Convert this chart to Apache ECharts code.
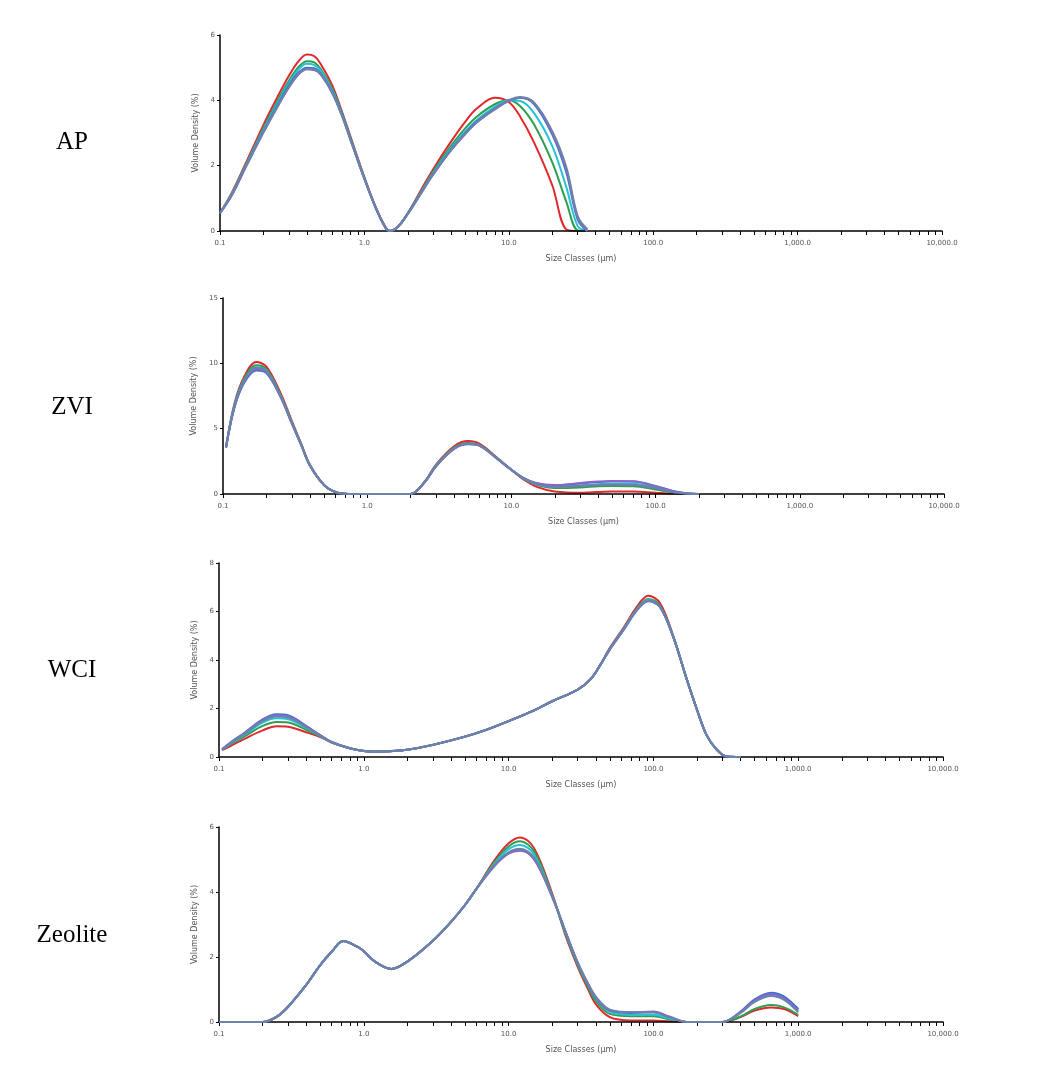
<!DOCTYPE html>
<html>
<head>
<meta charset="utf-8">
<title>Particle size distribution</title>
<script src="https://cdn.jsdelivr.net/npm/echarts@6/dist/echarts.min.js"></script>
<style>
  html, body { margin: 0; padding: 0; background: #fff; }
  #chart { width: 1047px; height: 1088px; }
</style>
</head>
<body>
<div id="chart"></div>
<script>
// size classes (um) and volume density (%) per sample
const apSizes = [0.1, 0.12, 0.15, 0.2, 0.25, 0.3, 0.35, 0.4, 0.45, 0.5, 0.6, 0.7, 0.8, 1, 1.2, 1.4, 1.5, 1.7, 2, 2.5, 3, 4, 5, 6, 8, 10, 12, 15, 20, 25, 30, 35]
const apRed = [0.55, 1.15, 2.05, 3.25, 4.1, 4.75, 5.2, 5.4, 5.35, 5.1, 4.45, 3.65, 2.9, 1.65, 0.72, 0.12, 0, 0.12, 0.55, 1.3, 1.9, 2.75, 3.35, 3.75, 4.08, 3.95, 3.5, 2.7, 1.4, 0.05, 0, 0]
const apGreen = [0.55, 1.12, 2.0, 3.15, 3.98, 4.6, 5.02, 5.2, 5.16, 4.95, 4.35, 3.6, 2.85, 1.62, 0.7, 0.1, 0, 0.12, 0.55, 1.25, 1.83, 2.62, 3.15, 3.5, 3.88, 4.0, 3.82, 3.25, 2.1, 0.9, 0.02, 0]
const apCyan = [0.55, 1.1, 1.98, 3.1, 3.92, 4.52, 4.95, 5.12, 5.08, 4.9, 4.3, 3.58, 2.84, 1.62, 0.7, 0.1, 0, 0.12, 0.54, 1.22, 1.78, 2.55, 3.05, 3.4, 3.8, 4.0, 3.98, 3.6, 2.6, 1.35, 0.15, 0]
const apBlue = [0.55, 1.08, 1.95, 3.05, 3.85, 4.45, 4.85, 5.0, 4.98, 4.82, 4.25, 3.55, 2.82, 1.6, 0.7, 0.1, 0, 0.12, 0.53, 1.2, 1.75, 2.5, 3.0, 3.35, 3.75, 4.0, 4.08, 3.88, 2.95, 1.8, 0.35, 0]
const apPurple = [0.55, 1.08, 1.94, 3.03, 3.82, 4.4, 4.8, 4.95, 4.93, 4.78, 4.22, 3.53, 2.8, 1.6, 0.7, 0.1, 0, 0.12, 0.53, 1.2, 1.74, 2.48, 2.97, 3.32, 3.72, 3.98, 4.08, 3.92, 3.0, 1.9, 0.4, 0]
const apSlate = [0.55, 1.08, 1.94, 3.02, 3.8, 4.4, 4.8, 4.96, 4.94, 4.8, 4.22, 3.53, 2.8, 1.6, 0.7, 0.1, 0, 0.12, 0.53, 1.2, 1.74, 2.5, 2.98, 3.33, 3.74, 4.0, 4.1, 3.92, 3.05, 1.95, 0.45, 0.05]

const zviSizes = [0.105, 0.12, 0.14, 0.17, 0.2, 0.25, 0.3, 0.35, 0.4, 0.5, 0.6, 0.7, 0.8, 1, 1.5, 2, 2.5, 3, 4, 5, 6, 8, 10, 12, 15, 20, 30, 40, 50, 70, 100, 130, 170, 200]
const zviRed = [3.6, 6.9, 8.95, 10.1, 9.75, 7.75, 5.6, 3.8, 2.25, 0.72, 0.15, 0.02, 0, 0, 0, 0, 0.95, 2.25, 3.65, 4.05, 3.85, 2.75, 1.85, 1.15, 0.55, 0.2, 0.1, 0.15, 0.2, 0.2, 0.1, 0.03, 0, 0]
const zviGreen = [3.6, 6.8, 8.8, 9.85, 9.55, 7.6, 5.5, 3.75, 2.2, 0.7, 0.15, 0.02, 0, 0, 0, 0, 0.92, 2.2, 3.55, 3.9, 3.75, 2.7, 1.85, 1.2, 0.7, 0.45, 0.5, 0.6, 0.62, 0.6, 0.35, 0.12, 0.02, 0]
const zviCyan = [3.6, 6.75, 8.7, 9.7, 9.45, 7.55, 5.45, 3.72, 2.2, 0.7, 0.15, 0.02, 0, 0, 0, 0, 0.9, 2.15, 3.5, 3.85, 3.72, 2.7, 1.85, 1.22, 0.75, 0.55, 0.65, 0.75, 0.8, 0.78, 0.5, 0.18, 0.03, 0]
const zviBlue = [3.55, 6.6, 8.5, 9.45, 9.25, 7.45, 5.4, 3.7, 2.2, 0.7, 0.15, 0.02, 0, 0, 0, 0, 0.9, 2.12, 3.45, 3.8, 3.7, 2.68, 1.85, 1.25, 0.82, 0.65, 0.8, 0.92, 0.97, 0.95, 0.62, 0.25, 0.04, 0]
const zviPurple = [3.55, 6.65, 8.6, 9.55, 9.35, 7.5, 5.42, 3.7, 2.2, 0.7, 0.15, 0.02, 0, 0, 0, 0, 0.9, 2.12, 3.45, 3.82, 3.7, 2.68, 1.85, 1.25, 0.82, 0.68, 0.85, 0.95, 1.0, 0.97, 0.6, 0.22, 0.03, 0]
const zviSlate = [3.6, 6.7, 8.65, 9.65, 9.42, 7.52, 5.45, 3.72, 2.2, 0.7, 0.15, 0.02, 0, 0, 0, 0, 0.9, 2.15, 3.5, 3.85, 3.72, 2.7, 1.85, 1.22, 0.75, 0.55, 0.62, 0.7, 0.72, 0.7, 0.45, 0.15, 0.02, 0]

const wciSizes = [0.105, 0.12, 0.15, 0.2, 0.25, 0.3, 0.4, 0.5, 0.6, 0.8, 1, 1.2, 1.5, 2, 3, 5, 7, 10, 15, 20, 30, 37, 43, 50, 62, 77, 92, 111, 137, 170, 200, 233, 274, 320, 400]
const wciRed = [0.28, 0.45, 0.75, 1.1, 1.27, 1.25, 1.02, 0.82, 0.6, 0.36, 0.25, 0.22, 0.24, 0.3, 0.5, 0.84, 1.12, 1.48, 1.92, 2.3, 2.78, 3.22, 3.8, 4.5, 5.32, 6.2, 6.65, 6.35, 5.0, 3.2, 1.95, 0.9, 0.3, 0.02, 0]
const wciGreen = [0.3, 0.52, 0.85, 1.28, 1.44, 1.42, 1.12, 0.85, 0.6, 0.36, 0.25, 0.22, 0.24, 0.3, 0.5, 0.84, 1.12, 1.48, 1.92, 2.3, 2.78, 3.22, 3.8, 4.47, 5.28, 6.12, 6.52, 6.25, 4.97, 3.2, 1.95, 0.9, 0.3, 0.02, 0]
const wciCyan = [0.3, 0.55, 0.92, 1.42, 1.6, 1.56, 1.2, 0.87, 0.6, 0.36, 0.25, 0.22, 0.24, 0.3, 0.5, 0.84, 1.12, 1.48, 1.92, 2.3, 2.78, 3.22, 3.8, 4.45, 5.25, 6.1, 6.48, 6.2, 4.95, 3.2, 1.95, 0.9, 0.3, 0.02, 0]
const wciBlue = [0.32, 0.6, 1.0, 1.55, 1.76, 1.72, 1.28, 0.9, 0.62, 0.36, 0.25, 0.22, 0.24, 0.3, 0.5, 0.84, 1.12, 1.48, 1.92, 2.3, 2.78, 3.22, 3.8, 4.43, 5.22, 6.05, 6.42, 6.18, 4.95, 3.2, 1.95, 0.9, 0.3, 0.02, 0]
const wciPurple = [0.32, 0.58, 0.98, 1.52, 1.72, 1.68, 1.26, 0.9, 0.62, 0.36, 0.25, 0.22, 0.24, 0.3, 0.5, 0.84, 1.12, 1.48, 1.92, 2.3, 2.78, 3.22, 3.8, 4.44, 5.24, 6.08, 6.45, 6.2, 4.95, 3.2, 1.95, 0.9, 0.3, 0.02, 0]
const wciSlate = [0.31, 0.57, 0.96, 1.48, 1.67, 1.63, 1.24, 0.88, 0.61, 0.36, 0.25, 0.22, 0.24, 0.3, 0.5, 0.84, 1.12, 1.48, 1.92, 2.3, 2.78, 3.22, 3.8, 4.45, 5.25, 6.08, 6.45, 6.2, 4.96, 3.2, 1.95, 0.9, 0.3, 0.02, 0]

const zeoSizes = [0.1, 0.2, 0.25, 0.3, 0.4, 0.5, 0.6, 0.72, 0.9, 1, 1.2, 1.55, 2, 3, 4, 5, 6, 8, 10, 12, 15, 20, 25, 30, 35, 40, 50, 70, 100, 130, 170, 300, 400, 500, 650, 800, 1000]
const zeoRed = [0, 0, 0.16, 0.47, 1.14, 1.75, 2.16, 2.49, 2.32, 2.18, 1.85, 1.63, 1.86, 2.5, 3.08, 3.6, 4.1, 4.98, 5.5, 5.68, 5.35, 3.95, 2.6, 1.7, 1.05, 0.55, 0.15, 0.05, 0.05, 0.02, 0, 0, 0.15, 0.35, 0.45, 0.4, 0.18]
const zeoGreen = [0, 0, 0.16, 0.47, 1.14, 1.75, 2.16, 2.49, 2.32, 2.18, 1.85, 1.63, 1.86, 2.5, 3.08, 3.6, 4.1, 4.92, 5.4, 5.56, 5.25, 3.9, 2.65, 1.75, 1.12, 0.65, 0.25, 0.18, 0.18, 0.08, 0, 0, 0.17, 0.4, 0.52, 0.45, 0.22]
const zeoCyan = [0, 0, 0.16, 0.47, 1.14, 1.75, 2.16, 2.49, 2.32, 2.18, 1.85, 1.63, 1.86, 2.5, 3.08, 3.6, 4.1, 4.88, 5.32, 5.45, 5.15, 3.88, 2.7, 1.8, 1.18, 0.72, 0.32, 0.22, 0.22, 0.1, 0, 0, 0.3, 0.65, 0.85, 0.75, 0.38]
const zeoBlue = [0, 0, 0.16, 0.47, 1.14, 1.75, 2.16, 2.49, 2.32, 2.18, 1.85, 1.63, 1.86, 2.5, 3.08, 3.6, 4.1, 4.82, 5.2, 5.3, 5.02, 3.85, 2.72, 1.82, 1.2, 0.75, 0.35, 0.28, 0.3, 0.15, 0, 0, 0.32, 0.7, 0.9, 0.78, 0.4]
const zeoPurple = [0, 0, 0.16, 0.47, 1.14, 1.75, 2.16, 2.49, 2.32, 2.18, 1.85, 1.63, 1.86, 2.5, 3.08, 3.6, 4.1, 4.8, 5.18, 5.27, 5.0, 3.85, 2.72, 1.82, 1.2, 0.75, 0.36, 0.3, 0.32, 0.16, 0, 0, 0.3, 0.66, 0.86, 0.72, 0.35]
const zeoSlate = [0, 0, 0.16, 0.47, 1.14, 1.75, 2.16, 2.49, 2.32, 2.18, 1.85, 1.63, 1.86, 2.5, 3.08, 3.6, 4.1, 4.83, 5.22, 5.33, 5.05, 3.87, 2.72, 1.83, 1.22, 0.78, 0.38, 0.3, 0.3, 0.14, 0, 0, 0.28, 0.62, 0.8, 0.68, 0.3]

// x ticks: decades plus 2..9 minors
const sizeTicks = [0.1, 0.2, 0.3, 0.4, 0.5, 0.6, 0.7, 0.8, 0.9, 1, 2, 3, 4, 5, 6, 7, 8, 9, 10, 20, 30, 40, 50, 60, 70, 80, 90,
  100, 200, 300, 400, 500, 600, 700, 800, 900, 1000, 2000, 3000, 4000, 5000, 6000, 7000, 8000, 9000, 10000]

const runColors = ['#e0282c', '#2e9e50', '#22c3d5', '#3c70d4', '#8a66cc', '#6c82a8']

const panels = [
  { label: 'AP', sizes: apSizes, runs: [apRed, apGreen, apCyan, apBlue, apPurple, apSlate], yMax: 6, yStep: 2, left: 220, top: 35, width: 722, height: 196, labelY: 142 },
  { label: 'ZVI', sizes: zviSizes, runs: [zviRed, zviGreen, zviCyan, zviBlue, zviPurple, zviSlate], yMax: 15, yStep: 5, left: 223, top: 298, width: 721, height: 196, labelY: 407 },
  { label: 'WCI', sizes: wciSizes, runs: [wciRed, wciGreen, wciCyan, wciBlue, wciPurple, wciSlate], yMax: 8, yStep: 2, left: 219, top: 563, width: 724, height: 194, labelY: 670 },
  { label: 'Zeolite', sizes: zeoSizes, runs: [zeoRed, zeoGreen, zeoCyan, zeoBlue, zeoPurple, zeoSlate], yMax: 6, yStep: 2, left: 219, top: 827, width: 724, height: 195, labelY: 935 }
]

function sizeLabel(v) {
  const n = Number(v.toPrecision(6))
  if (n < 1) return n.toFixed(1)
  return String(Math.round(n)).replace(/\B(?=(\d{3})+(?!\d))/g, ',') + '.0'
}

const tinyText = { fontFamily: 'DejaVu Sans', fontSize: 7, color: '#555' }
const nameText = { fontFamily: 'DejaVu Sans', fontSize: 8, color: '#555' }

const chart = echarts.init(document.getElementById('chart'))

const option = {
  animation: false,
  backgroundColor: '#fff',
  grid: panels.map(p => ({ left: p.left, top: p.top, width: p.width, height: p.height })),
  xAxis: panels.map((p, i) => ({
    type: 'log',
    logBase: 10,
    gridIndex: i,
    min: 0.1,
    max: 10000,
    z: 5,
    name: 'Size Classes (μm)',
    nameLocation: 'middle',
    nameGap: 24,
    nameTextStyle: nameText,
    axisLine: { lineStyle: { color: '#000', width: 1.5 } },
    axisTick: { customValues: sizeTicks, length: 4, lineStyle: { color: '#000', width: 1 } },
    axisLabel: Object.assign({ margin: 9, formatter: sizeLabel }, tinyText),
    splitLine: { show: false }
  })),
  yAxis: panels.map((p, i) => ({
    type: 'value',
    gridIndex: i,
    min: 0,
    max: p.yMax,
    interval: p.yStep,
    z: 5,
    name: 'Volume Density (%)',
    nameLocation: 'middle',
    nameGap: 15,
    nameTextStyle: nameText,
    axisLine: { show: true, lineStyle: { color: '#000', width: 1.5 } },
    axisTick: { show: true, length: 3, lineStyle: { color: '#000' } },
    axisLabel: Object.assign({ margin: 5 }, tinyText),
    splitLine: { show: false }
  })),
  series: [],
  graphic: panels.map(p => ({
    type: 'text',
    x: 72,
    y: p.labelY,
    style: { text: p.label, font: '25px "Liberation Serif"', fill: '#000', align: 'center', verticalAlign: 'middle' }
  }))
}

panels.forEach((p, i) => {
  p.runs.forEach((run, k) => {
    option.series.push({
      type: 'line',
      xAxisIndex: i,
      yAxisIndex: i,
      data: p.sizes.map((s, j) => [s, run[j]]),
      smooth: 0.35,
      symbol: 'none',
      lineStyle: { color: runColors[k], width: k === runColors.length - 1 ? 2.2 : 2 },
      z: 2 + k
    })
  })
})

chart.setOption(option)
</script>
</body>
</html>
